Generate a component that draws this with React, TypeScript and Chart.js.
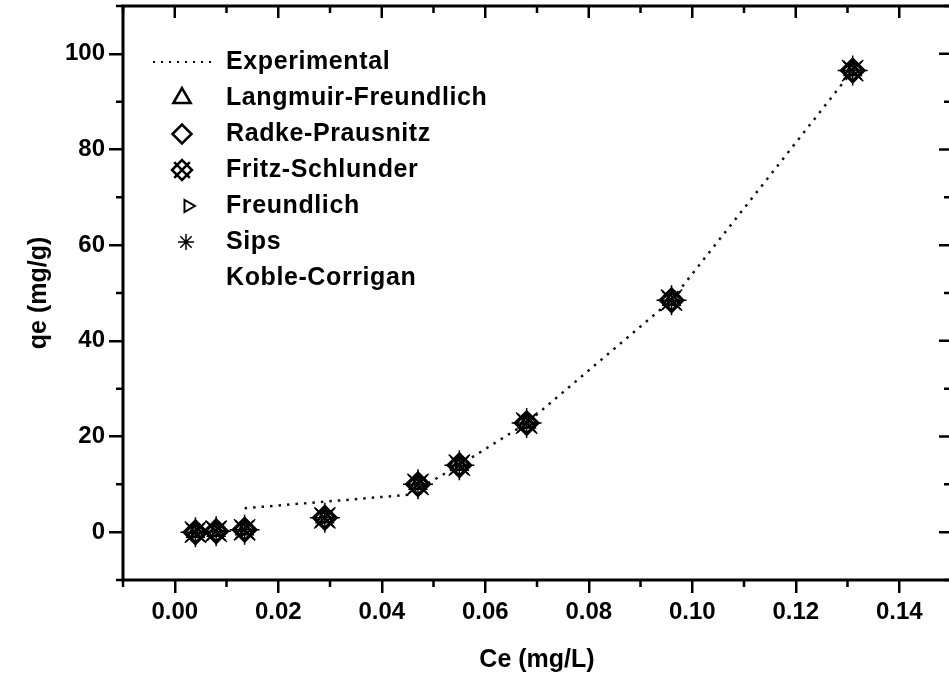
import React, { useEffect, useRef } from 'react';
import { Chart, registerables } from 'chart.js';
import { drawPoint } from 'chart.js/helpers';

Chart.register(...registerables);

// ---------- data ----------
const ceValues = [0.004, 0.008, 0.0135, 0.029, 0.047, 0.055, 0.068, 0.096, 0.131];
const langmuirFreundlichQe = [0.0, 0.2, 0.5, 3.0, 10.0, 14.0, 22.8, 48.5, 96.5];
const radkePrausnitzQe = [0.0, 0.2, 0.5, 3.0, 10.0, 14.0, 22.8, 48.5, 96.5];
const fritzSchlunderQe = [0.0, 0.2, 0.5, 3.0, 10.0, 14.0, 22.8, 48.5, 96.5];
const freundlichQe = [0.0, 0.2, 0.5, 3.0, 10.0, 14.0, 22.8, 48.5, 96.5];
const sipsQe = [0.0, 0.2, 0.5, 3.0, 10.0, 14.0, 22.8, 48.5, 96.5];
const kobleCorriganQe = [0.0, 0.2, 0.5, 3.0, 10.0, 14.0, 22.8, 48.5, 96.5];

const experimentalCe = [0.0135, 0.045, 0.055, 0.068, 0.096, 0.131];
const experimentalQe = [5.0, 7.8, 14.0, 22.8, 48.5, 96.5];

const xTicks = [0.0, 0.02, 0.04, 0.06, 0.08, 0.1, 0.12, 0.14];
const xMinorTicks = [-0.01, 0.01, 0.03, 0.05, 0.07, 0.09, 0.11, 0.13];
const yTicks = [0, 20, 40, 60, 80, 100];
const yMinorTicks = [-10, 10, 30, 50, 70, 90, 110];
const xRange = [-0.01, 0.15];
const yRange = [-10, 110];

const xTitle = 'Ce (mg/L)';
const yTitle = 'qe (mg/g)';

const FONT = '"Liberation Sans", Arial, Helvetica, sans-serif';

const pts = (xs: number[], ys: number[]) => xs.map((x, i) => ({ x, y: ys[i] }));

const frameAndLegend = {
  id: 'frameAndLegend',
  afterDraw(chart: any) {
    const { ctx, chartArea: a, scales } = chart;
    const xs = scales.x;
    const ys = scales.y;
    ctx.save();
    ctx.strokeStyle = '#000';
    ctx.lineWidth = 3;
    ctx.strokeRect(a.left, a.top, a.right - a.left, a.bottom - a.top);

    ctx.lineWidth = 2.5;
    ctx.beginPath();
    for (const v of xMinorTicks) {
      const p = xs.getPixelForValue(v);
      ctx.moveTo(p, a.bottom);
      ctx.lineTo(p, a.bottom + 7);
      ctx.moveTo(p, a.top);
      ctx.lineTo(p, a.top + 7);
    }
    for (const v of xTicks) {
      const p = xs.getPixelForValue(v);
      ctx.moveTo(p, a.top);
      ctx.lineTo(p, a.top + 12);
    }
    for (const v of yMinorTicks) {
      const p = ys.getPixelForValue(v);
      ctx.moveTo(a.left, p);
      ctx.lineTo(a.left - 7, p);
      ctx.moveTo(a.right, p);
      ctx.lineTo(a.right - 7, p);
    }
    for (const v of yTicks) {
      const p = ys.getPixelForValue(v);
      ctx.moveTo(a.right, p);
      ctx.lineTo(a.right - 12, p);
    }
    ctx.stroke();

    // legend
    const rowH = 36;
    const y0 = a.top + 56;
    const symX = a.left + 59;
    const textX = a.left + 103;
    ctx.font = `bold 25px ${FONT}`;
    try { (ctx as any).letterSpacing = '0.6px'; } catch (e) {}
    ctx.textBaseline = 'middle';
    ctx.textAlign = 'left';
    chart.data.datasets.forEach((ds: any, i: number) => {
      const y = y0 + i * rowH;
      ctx.fillStyle = '#000';
      ctx.fillText(ds.label, textX, y);
      ctx.strokeStyle = '#000';
      ctx.fillStyle = 'rgba(0,0,0,0)';
      if (ds.showLine) {
        ctx.save();
        ctx.lineWidth = 2;
        ctx.setLineDash([2, 6]);
        ctx.beginPath();
        ctx.moveTo(a.left + 30, y);
        ctx.lineTo(a.left + 94, y);
        ctx.stroke();
        ctx.restore();
      } else if (ds.legendStyles) {
        for (const st of ds.legendStyles) {
          ctx.lineWidth = st.borderWidth;
          drawPoint(ctx, { pointStyle: st.pointStyle, radius: st.radius, rotation: st.rotation || 0, borderWidth: st.borderWidth }, symX + (st.dx || 0), y);
        }
      }
    });
    ctx.restore();
  },
};

export default function App() {
  const ref = useRef<HTMLCanvasElement | null>(null);

  useEffect(() => {
    if (!ref.current) return;
    const black = '#000';
    const clear = 'rgba(0,0,0,0)';
    const chart = new Chart(ref.current, {
      type: 'scatter',
      data: {
        datasets: [
          {
            label: 'Experimental',
            data: pts(experimentalCe, experimentalQe),
            showLine: true,
            borderColor: '#111',
            borderWidth: 2.5,
            borderDash: [2.5, 6],
            pointRadius: 0,
            tension: 0,
          },
          {
            label: 'Langmuir-Freundlich',
            data: pts(ceValues, langmuirFreundlichQe),
            pointStyle: 'triangle',
            pointRadius: 9,
            borderColor: black,
            backgroundColor: clear,
            borderWidth: 2.5,
            legendStyles: [{ pointStyle: 'triangle', radius: 10, borderWidth: 2.5 }],
          },
          {
            label: 'Radke-Prausnitz',
            data: pts(ceValues, radkePrausnitzQe),
            pointStyle: 'rectRot',
            pointRadius: 11,
            borderColor: black,
            backgroundColor: clear,
            borderWidth: 3.5,
            legendStyles: [{ pointStyle: 'rectRot', radius: 9.5, borderWidth: 2.5 }],
          },
          {
            label: 'Fritz-Schlunder',
            data: pts(ceValues, fritzSchlunderQe),
            pointStyle: 'crossRot',
            pointRadius: 13,
            borderColor: black,
            backgroundColor: clear,
            borderWidth: 2,
            legendStyles: [
              { pointStyle: 'rectRot', radius: 10, borderWidth: 2.5 },
              { pointStyle: 'crossRot', radius: 11, borderWidth: 2.5 },
            ],
          },
          {
            label: 'Freundlich',
            data: pts(ceValues, freundlichQe),
            pointStyle: 'triangle',
            pointRotation: 90,
            pointRadius: 7,
            borderColor: black,
            backgroundColor: clear,
            borderWidth: 2,
            legendStyles: [{ pointStyle: 'triangle', radius: 7, rotation: 90, borderWidth: 2, dx: 6 }],
          },
          {
            label: 'Sips',
            data: pts(ceValues, sipsQe),
            pointStyle: 'star',
            pointRadius: 15,
            borderColor: black,
            backgroundColor: clear,
            borderWidth: 1.5,
            legendStyles: [{ pointStyle: 'star', radius: 8, borderWidth: 1.5, dx: 4 }],
          },
          {
            label: 'Koble-Corrigan',
            data: pts(ceValues, kobleCorriganQe),
            pointStyle: 'circle',
            pointRadius: 0,
            borderColor: black,
            backgroundColor: clear,
            borderWidth: 0,
            legendStyles: [],
          },
        ] as any,
      },
      options: {
        animation: false,
        responsive: false,
        devicePixelRatio: 1,
        layout: { autoPadding: false, padding: { top: 6, right: 9, left: 0, bottom: 0 } },
        plugins: { legend: { display: false }, tooltip: { enabled: false } },
        scales: {
          x: {
            type: 'linear',
            min: xRange[0],
            max: xRange[1],
            afterBuildTicks: (s: any) => {
              s.ticks = xTicks.map((v) => ({ value: v }));
            },
            afterFit: (s: any) => {
              s.height = 106;
              s.paddingLeft = 0;
              s.paddingRight = 0;
            },
            ticks: {
              color: '#000',
              padding: 5,
              maxRotation: 0,
              autoSkip: false,
              font: { family: FONT, size: 24, weight: 'bold' },
              callback: (v: any) => Number(v).toFixed(2),
            },
            grid: { display: true, drawOnChartArea: false, drawTicks: true, tickLength: 13, color: '#000', lineWidth: 2.5 },
            border: { display: false },
            title: {
              display: true,
              text: xTitle,
              color: '#000',
              font: { family: FONT, size: 25, weight: 'bold' },
              padding: { top: 0, bottom: 11 },
            },
          },
          y: {
            type: 'linear',
            min: yRange[0],
            max: yRange[1],
            afterBuildTicks: (s: any) => {
              s.ticks = yTicks.map((v) => ({ value: v }));
            },
            afterFit: (s: any) => {
              s.width = 123;
              s.paddingTop = 0;
              s.paddingBottom = 0;
            },
            ticks: {
              color: '#000',
              padding: 4,
              autoSkip: false,
              font: { family: FONT, size: 24, weight: 'bold' },
              callback: (v: any) => String(v),
            },
            grid: { display: true, drawOnChartArea: false, drawTicks: true, tickLength: 14, color: '#000', lineWidth: 2.5 },
            border: { display: false },
            title: {
              display: true,
              text: yTitle,
              color: '#000',
              font: { family: FONT, size: 25, weight: 'bold' },
              padding: { top: 24, bottom: 0 },
            },
          },
        },
      } as any,
      plugins: [frameAndLegend],
    });
    return () => chart.destroy();
  }, []);

  return (
    <div style={{ position: 'fixed', left: 0, top: 0, width: 949, height: 686, overflow: 'hidden', background: '#fff' }}>
      <canvas ref={ref} width={960} height={686} style={{ width: 960, height: 686, display: 'block' }} />
    </div>
  );
}
